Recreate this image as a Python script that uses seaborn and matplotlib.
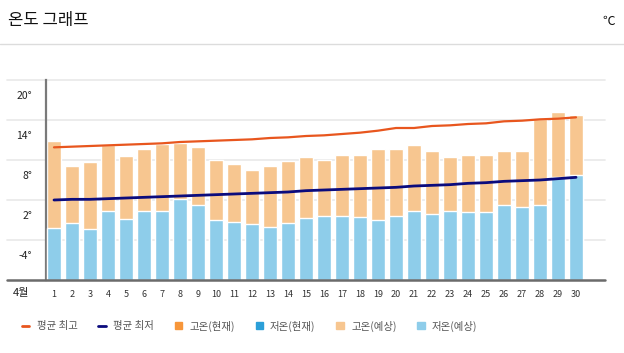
import numpy as np
import pandas as pd
import seaborn as sns
import matplotlib.pyplot as plt
from matplotlib.lines import Line2D
from matplotlib.patches import Patch
from matplotlib.transforms import ScaledTranslation

# daily values for April (degrees)
days = list(range(1, 31))
high = [10.9, 7.1, 7.7, 10.2, 8.6, 9.7, 10.4, 10.6, 10.0, 8.0,
        7.4, 6.5, 7.1, 7.8, 8.4, 8.0, 8.8, 8.8, 9.6, 9.6,
        10.3, 9.3, 8.5, 8.8, 8.8, 9.3, 9.4, 14.2, 15.2, 14.8]
low = [-2.2, -1.4, -2.4, 0.3, -0.8, 0.4, 0.4, 2.2, 1.2, -1.0,
       -1.3, -1.6, -2.0, -1.4, -0.7, -0.4, -0.4, -0.6, -1.0, -0.4,
       0.3, -0.1, 0.4, 0.2, 0.2, 1.2, 1.0, 1.3, 5.4, 5.7]
avg_high = [9.9, 10.0, 10.1, 10.2, 10.3, 10.4, 10.5, 10.7, 10.8, 10.9,
            11.0, 11.1, 11.3, 11.4, 11.6, 11.7, 11.9, 12.1, 12.4, 12.8,
            12.8, 13.1, 13.2, 13.4, 13.5, 13.8, 13.9, 14.1, 14.2, 14.4]
avg_low = [2.0, 2.1, 2.1, 2.2, 2.3, 2.4, 2.5, 2.6, 2.7, 2.8,
           2.9, 3.0, 3.1, 3.2, 3.4, 3.5, 3.6, 3.7, 3.8, 3.9,
           4.1, 4.2, 4.3, 4.5, 4.6, 4.8, 4.9, 5.0, 5.2, 5.4]
yticks = [-4, 2, 8, 14, 20]
legend_labels = ['평균 최고', '평균 최저', '고온(현재)', '저온(현재)', '고온(예상)', '저온(예상)']

BASE = -10
df = pd.DataFrame({'day': days, 'high': high, 'low': low,
                   'avg_high': avg_high, 'avg_low': avg_low})
df['hi_span'] = df['high'] - BASE
df['lo_span'] = df['low'] - BASE
pos = np.arange(len(days))

sns.set_style('white')
plt.rcParams['font.family'] = ['Noto Sans CJK KR', 'DejaVu Sans']

c_hi_fc = '#f7c690'
c_lo_fc = '#8ecdea'
c_avg_hi = '#e8561e'
c_avg_lo = '#0b0b7d'
c_hi_now = '#f7963a'
c_lo_now = '#2b9fd8'

fig = plt.figure(figsize=(6.24, 3.53), dpi=100)
W, H = 624, 353
ax = fig.add_axes([46 / W, 1 - 280 / H, 559 / W, 200 / H])

# grid lines reaching past the y axis
ext = -39 / 559
for v in yticks:
    ax.axhline(v, xmin=ext, xmax=1, color='#ebebeb', lw=1.3, zorder=0, clip_on=False)

sns.barplot(data=df, x='day', y='hi_span', color=c_hi_fc, width=0.75,
            bottom=BASE, saturation=1, ax=ax, zorder=2)
sns.barplot(data=df, x='day', y='lo_span', color=c_lo_fc, width=0.75,
            bottom=BASE, saturation=1, ax=ax, zorder=3)
sns.lineplot(x=pos, y=df['avg_high'], color=c_avg_hi, lw=1.6, ax=ax, zorder=4)
sns.lineplot(x=pos, y=df['avg_low'], color=c_avg_lo, lw=2.0, ax=ax, zorder=4)

ax.set_xlim(-8 / 18, 30.61)
ax.set_ylim(BASE, 20)
ax.set_xlabel('')
ax.set_ylabel('')
ax.axhline(BASE, xmin=ext, xmax=1, color='#6b6b6b', lw=1.8, zorder=5, clip_on=False)

for s in ['top', 'right', 'bottom']:
    ax.spines[s].set_visible(False)
ax.spines['left'].set_color('#7a7a7a')
ax.spines['left'].set_linewidth(1.6)

ax.set_yticks(yticks)
ax.set_yticklabels([f'{v}°' for v in yticks])
ax.tick_params(axis='y', length=0, pad=10, labelsize=7.5, labelcolor='#222222')
ax.tick_params(axis='x', length=0, pad=7, labelsize=6.5, labelcolor='#333333')
shift = ScaledTranslation(0, -15 / 100, fig.dpi_scale_trans)
for lab in ax.get_yticklabels():
    lab.set_transform(lab.get_transform() + shift)

fig.text(21 / W, 1 - 293 / H, '4월', fontsize=8, ha='center', va='center', color='#222222')

# header
fig.text(8 / W, 1 - 21 / H, '온도 그래프', fontsize=12, va='center', color='#111111')
fig.text(615 / W, 1 - 21 / H, '℃', fontsize=9, ha='right', va='center', color='#111111')
fig.add_artist(Line2D([0, 1], [1 - 44 / H, 1 - 44 / H], transform=fig.transFigure,
                      color='#dcdcdc', lw=1))

handles = [Line2D([], [], color=c_avg_hi, lw=2),
           Line2D([], [], color=c_avg_lo, lw=2),
           Patch(color=c_hi_now), Patch(color=c_lo_now),
           Patch(color=c_hi_fc), Patch(color=c_lo_fc)]
leg = fig.legend(handles, legend_labels, loc='center left',
                 bbox_to_anchor=(22 / W, 1 - 326 / H), ncol=6, frameon=False,
                 fontsize=7.5, handlelength=0.7, handleheight=0.7,
                 handletextpad=0.7, columnspacing=2.0, borderpad=0, borderaxespad=0)
for t in leg.get_texts():
    t.set_color('#555555')

fig.savefig('out.png', dpi=100)
